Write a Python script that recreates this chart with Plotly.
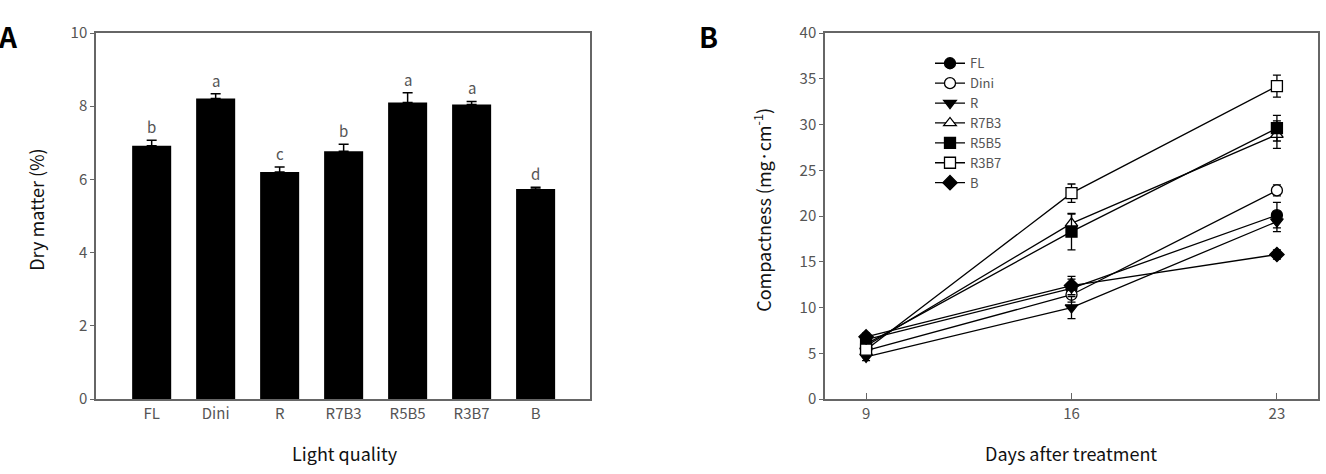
import plotly.graph_objects as go

# Panel A data
categories = ["FL", "Dini", "R", "R7B3", "R5B5", "R3B7", "B"]
dry_matter = [6.92, 8.21, 6.20, 6.77, 8.10, 8.05, 5.74]
dry_err = [0.15, 0.13, 0.14, 0.19, 0.27, 0.08, 0.05]
letters = ["b", "a", "c", "b", "a", "a", "d"]

# Panel B data
days = [9, 16, 23]
series_names = ["FL", "Dini", "R", "R7B3", "R5B5", "R3B7", "B"]
FL = [6.5, 12.1, 20.1]
Dini = [5.3, 11.4, 22.8]
R = [4.6, 10.0, 19.4]
R7B3 = [5.8, 19.2, 28.9]
R5B5 = [6.0, 18.3, 29.6]
R3B7 = [5.4, 22.5, 34.2]
B = [6.8, 12.4, 15.8]
FL_err = [0.4, 1.0, 1.4]
Dini_err = [0.3, 0.8, 0.6]
R_err = [0.4, 1.2, 1.1]
R7B3_err = [0.4, 1.0, 1.5]
R5B5_err = [0.4, 2.0, 1.4]
R3B7_err = [0.3, 1.0, 1.2]
B_err = [0.4, 1.0, 0.5]

series_vals = [FL, Dini, R, R7B3, R5B5, R3B7, B]
series_errs = [FL_err, Dini_err, R_err, R7B3_err, R5B5_err, R3B7_err, B_err]
symbols = ["circle", "circle", "triangle-down", "triangle-up", "square", "square", "diamond"]
fills = ["black", "white", "black", "white", "black", "white", "black"]

FONT = "Noto Sans CJK KR"
TICK_COLOR = "#555555"
AXIS_COLOR = "#666666"
TITLE_FONT = dict(family=FONT, size=18, color="#111111")

fig = go.Figure()

fig.add_trace(go.Bar(
    x=categories, y=dry_matter,
    marker=dict(color="black", line=dict(color="black", width=0)),
    error_y=dict(type="data", array=dry_err, symmetric=False, arrayminus=[0]*7,
                 color="black", thickness=1.5, width=5),
    width=0.61,
    xaxis="x", yaxis="y", showlegend=False,
))

for name, vals, errs, sym, fc in zip(series_names, series_vals, series_errs, symbols, fills):
    fig.add_trace(go.Scatter(
        x=days, y=vals, name=name, mode="lines+markers",
        line=dict(color="black", width=1.3),
        marker=dict(symbol=sym, size=11, color=fc, line=dict(color="black", width=1.3)),
        error_y=dict(type="data", array=errs, color="black", thickness=1.3, width=4),
        xaxis="x2", yaxis="y2",
    ))

# letters above bars
annotations = []
for c, v, e, l in zip(categories, dry_matter, dry_err, letters):
    annotations.append(dict(x=c, y=v + e, xref="x", yref="y", text=l, showarrow=False,
                            yanchor="bottom", yshift=1,
                            font=dict(family=FONT, size=15, color=TICK_COLOR)))

annotations += [
    dict(x=-0.003, y=1 - 25/474, xref="paper", yref="paper", text="<b>A</b>", showarrow=False,
         xanchor="left", yanchor="middle", font=dict(family=FONT, size=28, color="black")),
    dict(x=697/1326, y=1 - 25/474, xref="paper", yref="paper", text="<b>B</b>", showarrow=False,
         xanchor="left", yanchor="middle", font=dict(family=FONT, size=28, color="black")),
    dict(x=36/1326, y=1 - 207/474, xref="paper", yref="paper", text="Dry matter (%)",
         showarrow=False, textangle=-90, xanchor="center", yanchor="middle", font=TITLE_FONT),
    dict(x=345/1326, y=1 - 461/474, xref="paper", yref="paper", text="Light quality",
         showarrow=False, xanchor="center", yanchor="middle", font=TITLE_FONT),
    dict(x=762/1326, y=1 - 207/474, xref="paper", yref="paper",
         text="Compactness (mg·cm<sup>-1</sup>)",
         showarrow=False, textangle=-90, xanchor="center", yanchor="middle", font=TITLE_FONT),
    dict(x=1071/1326, y=1 - 461/474, xref="paper", yref="paper", text="Days after treatment",
         showarrow=False, xanchor="center", yanchor="middle", font=TITLE_FONT),
]

ydom = [1 - 405/474, 1 - 22/474]
axis_common = dict(showline=True, linecolor=AXIS_COLOR, linewidth=1.5, mirror=True,
                   showgrid=False, zeroline=False,
                   tickfont=dict(family=FONT, size=15, color=TICK_COLOR))

fig.update_layout(
    width=1326, height=474,
    margin=dict(l=0, r=0, t=0, b=0),
    paper_bgcolor="white", plot_bgcolor="white",
    xaxis=dict(domain=[96/1326, 590/1326], range=[-0.87, 6.85], ticks="",
               ticklen=0, **axis_common),
    yaxis=dict(domain=ydom, range=[0, 10], tickvals=[0, 2, 4, 6, 8, 10], ticks="outside",
               ticklen=4, tickcolor=AXIS_COLOR, **axis_common),
    xaxis2=dict(domain=[825/1326, 1318/1326], range=[7.6, 24.4], tickvals=days,
                ticks="inside", ticklen=6, tickcolor=AXIS_COLOR, anchor="y2", **axis_common),
    yaxis2=dict(domain=ydom, range=[0, 40], tickvals=list(range(0, 41, 5)), ticks="outside",
                ticklen=4, tickcolor=AXIS_COLOR, anchor="x2", **axis_common),
    legend=dict(x=930/1326, y=1 - 38/474, xanchor="left", yanchor="top",
                bgcolor="rgba(0,0,0,0)", font=dict(family=FONT, size=13, color=TICK_COLOR),
                tracegroupgap=0, itemwidth=30),
    annotations=annotations,
)

fig.write_html("out.html")
